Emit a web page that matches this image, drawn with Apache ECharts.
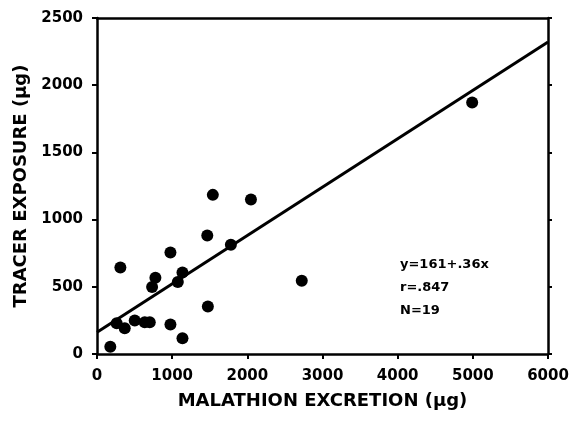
<!DOCTYPE html>
<html><head><meta charset="utf-8">
<script src="https://cdn.jsdelivr.net/npm/echarts@6/dist/echarts.min.js"></script>
<style>html,body{margin:0;padding:0;background:#fff}#c{width:571px;height:421px}</style>
</head><body><div id="c"></div>
<script>
// Malathion excretion (µg) vs tracer exposure (µg)
const excretion = [177, 311, 262, 369, 502, 635, 702, 733, 777, 977, 977, 1075, 1137, 1137, 1467, 1475, 1541, 1781, 2048, 2724, 4991];
const exposure  = [54, 644, 229, 192, 249, 236, 236, 498, 567, 756, 219, 535, 607, 117, 881, 353, 1184, 813, 1149, 545, 1871];
const intercept = 161;
const slope = 0.36;
const lineX = [0, 6000];
const xTicks = [0, 1000, 2000, 3000, 4000, 5000, 6000];
const yTicks = [0, 500, 1000, 1500, 2000, 2500];
const annotation = ['y=161+.36x', 'r=.847', 'N=19'];

const pts = excretion.map((x, i) => [x, exposure[i]]);
const fitPts = lineX.map(x => [x, intercept + slope * x]);
const FONT = '"DejaVu Sans", sans-serif';
const axLine = {show: true, onZero: false, lineStyle: {color: '#000', width: 2.5}};
const fmt = v => String(v);
const chart = echarts.init(document.getElementById('c'), null, {renderer: 'canvas'});
chart.setOption({
  animation: false,
  backgroundColor: '#fff',
  grid: {left: 97, right: 23, top: 18, bottom: 67, containLabel: false, outerBoundsMode: 'none'},
  xAxis: [{
    type: 'value', min: xTicks[0], max: xTicks[xTicks.length - 1], interval: 1000,
    axisLine: axLine, splitLine: {show: false},
    axisTick: {show: true, inside: false, length: 5, lineStyle: {color: '#000', width: 2}},
    axisLabel: {color: '#000', fontFamily: FONT, fontWeight: 'bold', fontSize: 15, margin: 15, formatter: fmt},
    name: 'MALATHION EXCRETION (µg)', nameLocation: 'middle', nameGap: 38,
    nameTextStyle: {color: '#000', fontFamily: FONT, fontWeight: 'bold', fontSize: 18}
  }, {
    type: 'value', position: 'top', min: 0, max: 6000, interval: 1000,
    axisLine: axLine, axisTick: {show: false}, axisLabel: {show: false}, splitLine: {show: false}
  }],
  yAxis: [{
    type: 'value', min: yTicks[0], max: yTicks[yTicks.length - 1], interval: 500,
    axisLine: axLine, splitLine: {show: false},
    axisTick: {show: true, inside: false, length: 5, lineStyle: {color: '#000', width: 2}},
    axisLabel: {color: '#000', fontFamily: FONT, fontWeight: 'bold', fontSize: 15, margin: 14, formatter: fmt},
    name: 'TRACER EXPOSURE (µg)', nameLocation: 'middle', nameGap: 67, nameRotate: 90,
    nameTextStyle: {color: '#000', fontFamily: FONT, fontWeight: 'bold', fontSize: 18}
  }, {
    type: 'value', position: 'right', min: 0, max: 2500, interval: 500,
    axisLine: axLine, splitLine: {show: false},
    axisTick: {show: true, inside: false, length: 4, lineStyle: {color: '#000', width: 2}},
    axisLabel: {show: false}
  }],
  graphic: annotation.map((t, i) => ({
    type: 'text', left: 400, top: 258 + i * 23,
    style: {text: t, fill: '#000', font: 'bold 13px "DejaVu Sans", sans-serif'}
  })),
  series: [{
    type: 'line', data: fitPts, showSymbol: false, symbol: 'none',
    lineStyle: {color: '#000', width: 3}, z: 2
  }, {
    type: 'scatter', data: pts, symbol: 'circle', symbolSize: 12,
    itemStyle: {color: '#000', opacity: 1}, z: 3
  }]
});
</script></body></html>
